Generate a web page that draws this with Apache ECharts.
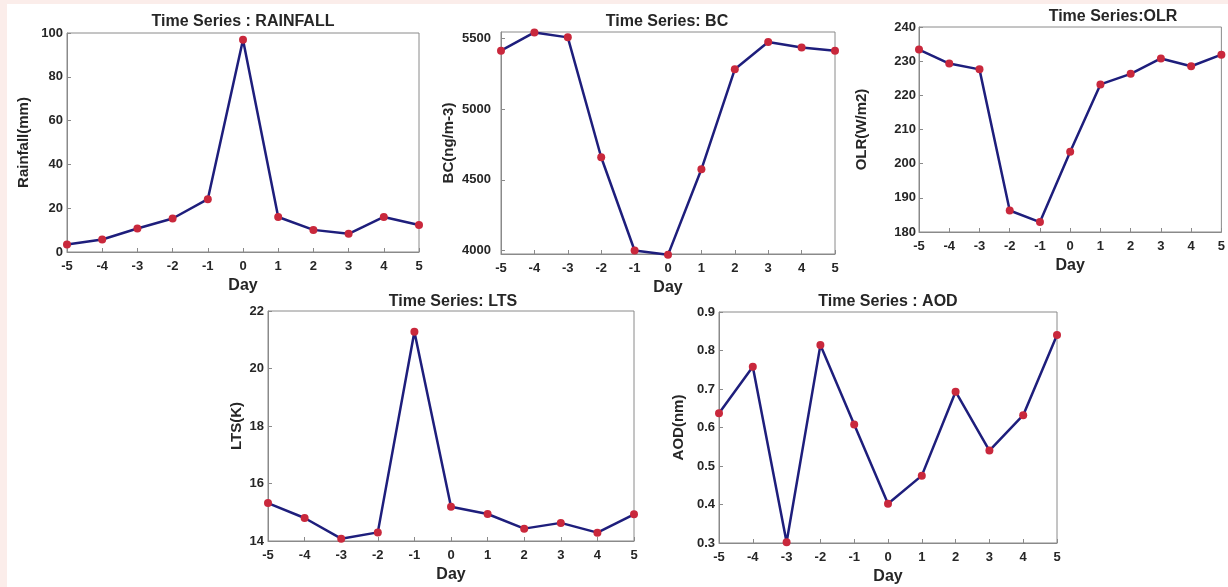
<!DOCTYPE html>
<html>
<head>
<meta charset="utf-8">
<script src="https://cdn.jsdelivr.net/npm/echarts@6/dist/echarts.min.js"></script>
<style>
html,body{margin:0;padding:0;background:#ffffff;}
#chart{width:1228px;height:587px;}
</style>
</head>
<body>
<div id="chart"></div>
<script>
// Data
const days = [-5, -4, -3, -2, -1, 0, 1, 2, 3, 4, 5];
const rainfall = [3.4, 5.7, 10.7, 15.3, 24.1, 96.9, 16.0, 10.1, 8.3, 16.0, 12.3];
const bc = [5413, 5542, 5507, 4659, 4000, 3969, 4574, 5281, 5474, 5436, 5413];
const olr = [233.4, 229.3, 227.6, 186.3, 182.9, 203.5, 223.2, 226.3, 230.8, 228.5, 231.9];
const lts = [15.32, 14.80, 14.08, 14.30, 21.28, 15.19, 14.94, 14.43, 14.63, 14.29, 14.93];
const aod = [0.637, 0.758, 0.302, 0.814, 0.608, 0.402, 0.475, 0.693, 0.540, 0.632, 0.840];

const titles = ['Time Series : RAINFALL', 'Time Series: BC', 'Time Series:OLR', 'Time Series: LTS', 'Time Series : AOD'];
const yNames = ['Rainfall(mm)', 'BC(ng/m-3)', 'OLR(W/m2)', 'LTS(K)', 'AOD(nm)'];
const xName = 'Day';
const yTicks = [
  [0, 20, 40, 60, 80, 100],
  [4000, 4500, 5000, 5500],
  [180, 190, 200, 210, 220, 230, 240],
  [14, 16, 18, 20, 22],
  [0.3, 0.4, 0.5, 0.6, 0.7, 0.8, 0.9]
];
const series = [rainfall, bc, olr, lts, aod];

// layout (styling only)
const grids = [
  {left: 67, top: 33, width: 352, height: 219},
  {left: 501, top: 32, width: 334, height: 222},
  {left: 919, top: 27, width: 304, height: 205},
  {left: 268, top: 311, width: 366, height: 230},
  {left: 719, top: 312, width: 338, height: 231}
];
const yRanges = [[0, 100], [3975, 5545], [180, 240], [14, 22], [0.3, 0.9]];
const yNameGaps = [36, 45, 50, 24, 33];
const yLabelMargins = [4, 10, 3, 4, 4];
const titlePos = [[243, 22], [667, 22], [1113, 17], [453, 302], [888, 302]];

const FONT = '"Liberation Sans", Arial, Helvetica, sans-serif';
const AX = '#8a8a8a';
const TXT = '#262626';

const option = {
  backgroundColor: '#ffffff',
  animation: false,
  graphic: [
    {type: 'rect', shape: {x: 0, y: 0, width: 1228, height: 4}, style: {fill: '#fbedea'}, z: -10, silent: true},
    {type: 'rect', shape: {x: 0, y: 0, width: 7, height: 587}, style: {fill: '#fbedea'}, z: -10, silent: true}
  ].concat(titles.map((t, i) => ({
    type: 'text', x: titlePos[i][0], y: titlePos[i][1], silent: true,
    style: {text: t, fill: TXT, font: 'bold 16px ' + FONT, textAlign: 'center', textVerticalAlign: 'middle'}
  }))),
  grid: grids.map(g => Object.assign({show: true, borderColor: AX, borderWidth: 1, backgroundColor: '#ffffff', containLabel: false}, g)),
  xAxis: grids.map((g, i) => ({
    type: 'value', gridIndex: i, min: -5, max: 5, interval: 1,
    name: xName, nameLocation: 'middle', nameGap: 26,
    nameTextStyle: {color: TXT, fontWeight: 'bold', fontSize: 16, fontFamily: FONT},
    axisLine: {show: true, onZero: false, lineStyle: {color: AX, width: 1}},
    axisTick: {show: true, inside: true, length: 4, lineStyle: {color: AX}},
    axisLabel: {color: TXT, fontWeight: 'bold', fontSize: 13, fontFamily: FONT, margin: 8},
    splitLine: {show: false}
  })),
  yAxis: grids.map((g, i) => ({
    type: 'value', gridIndex: i, min: yRanges[i][0], max: yRanges[i][1],
    name: yNames[i], nameLocation: 'middle', nameGap: yNameGaps[i],
    nameTextStyle: {color: TXT, fontWeight: 'bold', fontSize: 15, fontFamily: FONT},
    axisLine: {show: true, onZero: false, lineStyle: {color: AX, width: 1}},
    axisTick: {show: true, inside: true, length: 4, lineStyle: {color: AX}, customValues: yTicks[i]},
    axisLabel: {color: TXT, fontWeight: 'bold', fontSize: 13, fontFamily: FONT, margin: yLabelMargins[i],
      customValues: yTicks[i], formatter: v => String(v)},
    splitLine: {show: false}
  })),
  series: series.map((vals, i) => ({
    type: 'line', xAxisIndex: i, yAxisIndex: i,
    data: days.map((d, k) => [d, vals[k]]),
    symbol: 'circle', symbolSize: 8,
    lineStyle: {color: '#1e1e7c', width: 2.5},
    itemStyle: {color: '#c9283c'},
    clip: false
  }))
};

echarts.init(document.getElementById('chart')).setOption(option);
</script>
</body>
</html>
